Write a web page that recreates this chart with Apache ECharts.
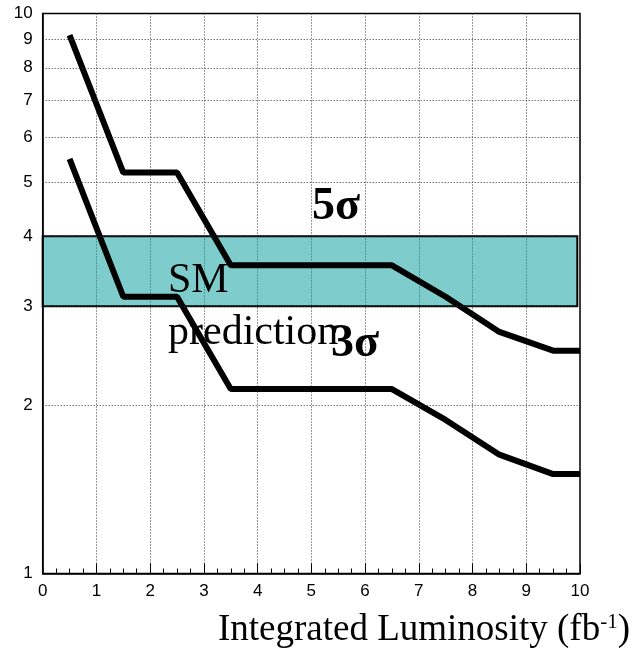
<!DOCTYPE html>
<html>
<head>
<meta charset="utf-8">
<script src="https://cdn.jsdelivr.net/npm/echarts@6/dist/echarts.min.js"></script>
<style>html,body{margin:0;padding:0;background:#fff}#c{width:636px;height:653px}</style>
</head>
<body>
<div id="c"></div>
<script>
// Data
const lumi = [0.5, 1.5, 2.5, 3.5, 6.5, 7.5, 8.5, 9.5, 10];
const sig5 = [9.15, 5.2, 5.2, 3.55, 3.55, 3.12, 2.70, 2.50, 2.50];
const sig3 = [5.5, 3.12, 3.12, 2.135, 2.135, 1.88, 1.63, 1.505, 1.505];
const bandX = [0, 9.95];
const bandY = [3, 4];
const yTicks = [1, 2, 3, 4, 5, 6, 7, 8, 9, 10];
const yGrid = [2, 3, 4, 5, 6, 7, 8, 9];

const chart = echarts.init(document.getElementById('c'), null, {renderer: 'canvas'});
const pair = (xs, ys) => xs.map((x, i) => [x, ys[i]]);
const dotted = {type: [1, 2], color: '#333', width: 1};

chart.setOption({
  animation: false,
  backgroundColor: '#fff',
  grid: {left: 42.7, top: 13.5, right: 56, bottom: 79.5, show: true, borderColor: '#000', borderWidth: 1.5, backgroundColor: 'transparent'},
  xAxis: {
    type: 'value', min: 0, max: 10, interval: 1,
    axisLine: {show: true, onZero: false, lineStyle: {color: '#000', width: 1.5}},
    axisTick: {show: true, inside: true, length: 10, lineStyle: {color: '#000', width: 1}},
    minorTick: {show: true, splitNumber: 4, length: 5, lineStyle: {color: '#000', width: 1}},
    axisLabel: {fontFamily: 'Liberation Sans', fontSize: 17, color: '#000', margin: 9},
    splitLine: {show: true, lineStyle: dotted}
  },
  yAxis: {
    type: 'log', logBase: 10, min: 1, max: 10,
    axisLine: {show: true, lineStyle: {color: '#000', width: 1.5}},
    axisTick: {show: false},
    axisLabel: {fontFamily: 'Liberation Sans', fontSize: 17, color: '#000', margin: 10, customValues: yTicks, formatter: v => String(Math.round(v))},
    splitLine: {show: false}
  },
  series: [
    {
      type: 'line', data: [], silent: true,
      markLine: {
        silent: true, symbol: 'none', label: {show: false},
        lineStyle: dotted,
        data: yGrid.map(v => ({yAxis: v}))
      }
    },
    {type: 'line', data: pair(lumi, sig5), symbol: 'none', lineStyle: {color: '#000', width: 6}, z: 3},
    {type: 'line', data: pair(lumi, sig3), symbol: 'none', lineStyle: {color: '#000', width: 6}, z: 3},
    {
      type: 'line', data: [], z: 10,
      markArea: {
        silent: true,
        itemStyle: {color: 'rgba(0,153,153,0.5)', borderColor: '#000', borderWidth: 2},
        data: [[{xAxis: bandX[0], yAxis: bandY[0]}, {xAxis: bandX[1], yAxis: bandY[1]}]]
      }
    }
  ],
  graphic: [
    {type: 'text', left: 168, top: 281 - 21, z: 100, style: {text: 'SM', font: '42px "Liberation Serif"', fill: '#000'}},
    {type: 'text', left: 168, top: 333 - 21, z: 100, style: {text: 'prediction', font: '42px "Liberation Serif"', fill: '#000'}},
    {type: 'text', left: 312, top: 207 - 23, z: 100, style: {text: '5σ', font: 'bold 46px "Liberation Serif"', fill: '#000'}},
    {type: 'text', left: 331, top: 344 - 23, z: 100, style: {text: '3σ', font: 'bold 46px "Liberation Serif"', fill: '#000'}},
    {type: 'text', right: 6, top: 612, z: 100, style: {
      text: 'Integrated Luminosity (fb{sup|-1})',
      font: '37px "Liberation Serif"', fill: '#000',
      rich: {sup: {fontFamily: 'Liberation Serif', fontSize: 21, verticalAlign: 'top', padding: [0, 0, 14, 0]}}
    }}
  ]
});
</script>
</body>
</html>
